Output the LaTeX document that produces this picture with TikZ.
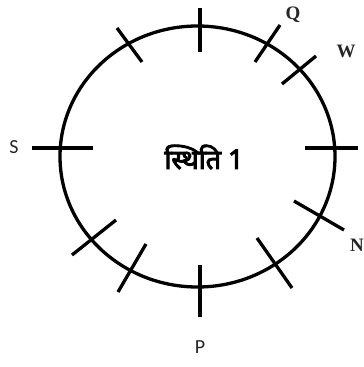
\documentclass[tikz,border=0pt]{standalone}
\usepackage{fontspec}
\setmainfont{Liberation Serif}
\newfontfamily\deva[Script=Devanagari,AutoFakeBold=3.5]{Noto Sans}
\newfontfamily\calib{Carlito}
\begin{document}
\begin{tikzpicture}[x=1pt,y=-1pt,
  ring/.style={line width=3.3pt,black},
  tick/.style={line width=3.3pt,black},
  serlab/.style={font=\fontsize{19}{19}\selectfont\bfseries,text=black!85,inner sep=0pt},
  callab/.style={font=\calib\fontsize{20}{20}\selectfont,text=black!85,inner sep=0pt}]
\useasboundingbox (0,0) rectangle (364,367);
\coordinate (c) at (197.5,156.5);
\draw[ring] (c) ellipse [x radius=137.5pt, y radius=130.5pt];
% ticks
\coordinate (t1a) at (200,8);   \coordinate (t1b) at (200,52);
\coordinate (t2a) at (117,28);  \coordinate (t2b) at (142,62);
\coordinate (t3a) at (280,25);  \coordinate (t3b) at (255,62);
\coordinate (t4a) at (316,56);  \coordinate (t4b) at (282,84);
\coordinate (t5a) at (305,148); \coordinate (t5b) at (358,148);
\coordinate (t6a) at (294,201); \coordinate (t6b) at (344,230);
\coordinate (t7a) at (257,238); \coordinate (t7b) at (292,288);
\coordinate (t8a) at (200,265); \coordinate (t8b) at (200,317);
\coordinate (t9a) at (146,244); \coordinate (t9b) at (118,292);
\coordinate (t10a) at (116,220); \coordinate (t10b) at (72,255);
\coordinate (t11a) at (32,148); \coordinate (t11b) at (93,148);
\foreach \i in {1,...,11} \draw[tick] (t\i a) -- (t\i b);
% labels
\node[serlab] (Q) at (293,15) {Q};
\node[serlab] (W) at (346,51) {W};
\node[serlab] (N) at (357,245) {N};
\node[callab] (S) at (14,147) {S};
\node[callab] (P) at (200,347) {P};
\node[inner sep=0pt,font=\deva\bfseries\fontsize{27}{27}\selectfont] (T) at (204,157) {स्थिति 1};
\end{tikzpicture}
\end{document}
